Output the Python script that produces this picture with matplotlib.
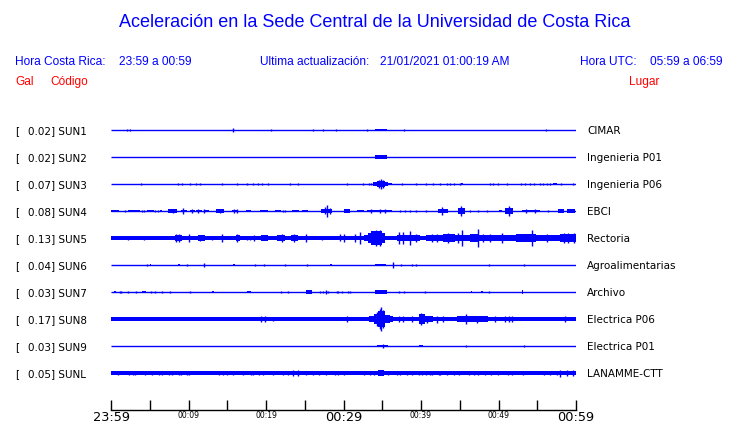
import matplotlib
matplotlib.use("Agg")
import matplotlib.pyplot as plt

# ---------------- data ----------------
codes = ["SUN1", "SUN2", "SUN3", "SUN4", "SUN5", "SUN6", "SUN7", "SUN8", "SUN9", "SUNL"]
places = ["CIMAR", "Ingenieria P01", "Ingenieria P06", "EBCI", "Rectoria",
          "Agroalimentarias", "Archivo", "Electrica P06", "Electrica P01", "LANAMME-CTT"]
peak_gal = [0.02, 0.02, 0.07, 0.08, 0.13, 0.04, 0.03, 0.17, 0.03, 0.05]

tick_minutes = [0, 5, 10, 15, 20, 25, 30, 35, 40, 45, 50, 55, 60]
tick_labels = ["23:59", "", "00:09", "", "00:19", "", "00:29", "", "00:39", "", "00:49", "", "00:59"]
big_tick_labels = ["23:59", "00:29", "00:59"]

# envelope blocks (start min, end min, half amplitude Gal) and spikes (min, Gal)
blocks_SUN1 = [(34.1, 35.6, 0.021)]
spikes_SUN1 = [(2.0, 0.014), (2.45, 0.014), (15.8, 0.03), (20.7, 0.014), (26.1, 0.012),
               (27.4, 0.012), (29.0, 0.008), (33.0, 0.014), (37.8, 0.018), (56.1, 0.016)]

blocks_SUN2 = [(34.1, 35.65, 0.024)]
spikes_SUN2 = []

blocks_SUN3 = [(33.8, 34.3, 0.022), (34.3, 35.3, 0.048), (35.3, 35.8, 0.03), (35.8, 36.2, 0.018),
               (45.2, 45.4, 0.02), (57.0, 57.5, 0.02)]
spikes_SUN3 = [(3.9, 0.014), (8.7, 0.014), (9.1, 0.014), (10.2, 0.012), (11.0, 0.018), (11.5, 0.018),
               (14.3, 0.014), (16.3, 0.014), (17.5, 0.014), (18.3, 0.014), (19.0, 0.012), (19.5, 0.02),
               (20.2, 0.014), (23.1, 0.012), (24.1, 0.012), (30.4, 0.012), (32.5, 0.012), (33.3, 0.02),
               (33.6, 0.02), (34.6, 0.055), (34.9, 0.068), (35.1, 0.06), (37.5, 0.014), (39.4, 0.012),
               (40.6, 0.012), (41.6, 0.012), (42.5, 0.012), (43.3, 0.014), (43.8, 0.014), (44.3, 0.014),
               (45.0, 0.014), (48.9, 0.012), (49.3, 0.014), (49.9, 0.012), (51.1, 0.012), (52.9, 0.014),
               (53.4, 0.012), (54.0, 0.012), (54.6, 0.014), (55.3, 0.014), (55.7, 0.016), (56.2, 0.018),
               (56.6, 0.016), (58.1, 0.018), (59.6, 0.014)]

blocks_SUN4 = [(0.0, 1.0, 0.021), (2.2, 3.7, 0.021), (4.7, 5.5, 0.021), (6.3, 6.6, 0.018),
               (7.3, 8.5, 0.024), (9.0, 9.8, 0.021), (10.2, 10.8, 0.021), (11.0, 11.8, 0.021),
               (12.0, 12.6, 0.021), (13.6, 14.6, 0.024), (15.6, 16.4, 0.021), (17.4, 18.0, 0.018),
               (19.2, 20.2, 0.018), (21.1, 22.0, 0.021), (23.3, 24.2, 0.018), (24.6, 25.4, 0.021),
               (27.1, 28.5, 0.035), (30.0, 30.8, 0.03), (31.7, 32.6, 0.021), (33.0, 36.2, 0.02),
               (42.2, 43.5, 0.035), (44.8, 45.7, 0.04), (50.0, 50.4, 0.02), (50.8, 51.9, 0.04),
               (53.0, 55.4, 0.02), (57.7, 58.5, 0.028), (58.9, 59.9, 0.033)]
spikes_SUN4 = [(1.8, 0.014), (4.0, 0.014), (4.3, 0.014), (5.7, 0.014), (6.0, 0.014), (8.0, 0.035),
               (9.3, 0.04), (10.5, 0.03), (11.2, 0.03), (12.0, 0.025), (14.0, 0.033), (15.9, 0.03),
               (16.2, 0.028), (22.2, 0.014), (22.5, 0.014), (27.6, 0.05), (27.9, 0.08), (28.2, 0.04),
               (33.6, 0.028), (34.7, 0.028), (35.3, 0.028), (37.3, 0.014), (37.9, 0.014), (38.6, 0.014),
               (39.4, 0.014), (40.6, 0.014), (42.7, 0.052), (45.1, 0.066), (46.3, 0.014), (47.4, 0.014),
               (48.5, 0.014), (51.3, 0.066), (53.6, 0.025), (54.7, 0.025), (56.4, 0.014)]

blocks_SUN5 = [(0.0, 28.3, 0.025), (8.2, 9.2, 0.045), (11.2, 12.1, 0.04), (16.1, 16.6, 0.038),
               (19.4, 20.2, 0.038), (21.4, 22.5, 0.04), (23.2, 24.1, 0.04),
               (28.3, 30.8, 0.026), (30.8, 31.5, 0.033), (31.5, 32.6, 0.03), (32.6, 33.2, 0.048),
               (33.2, 33.6, 0.07), (33.6, 35.0, 0.095), (35.0, 35.4, 0.07), (35.4, 36.9, 0.029),
               (36.9, 39.9, 0.038), (39.9, 40.7, 0.026), (40.7, 42.9, 0.038), (42.9, 44.4, 0.057),
               (44.4, 45.5, 0.048), (45.5, 46.3, 0.038), (46.3, 47.4, 0.057), (47.4, 49.8, 0.038),
               (49.8, 52.3, 0.048), (52.3, 54.9, 0.057), (54.9, 57.9, 0.038), (57.9, 60.0, 0.057)]
spikes_SUN5 = [(2.2, 0.033), (4.2, 0.033), (8.4, 0.062), (8.8, 0.055), (10.0, 0.058), (11.5, 0.045),
               (13.0, 0.033), (14.3, 0.062), (16.3, 0.062), (17.5, 0.033), (17.9, 0.033), (18.5, 0.04),
               (22.0, 0.052), (23.6, 0.057), (25.2, 0.057), (27.2, 0.03), (29.5, 0.05), (30.0, 0.06),
               (31.5, 0.057), (32.1, 0.086), (34.2, 0.11), (34.7, 0.12), (37.1, 0.086), (37.7, 0.086),
               (38.6, 0.095), (39.4, 0.057), (41.4, 0.057), (42.0, 0.057), (43.5, 0.071), (44.8, 0.071),
               (45.3, 0.12), (47.3, 0.13), (48.0, 0.057), (48.9, 0.057), (50.4, 0.071), (54.3, 0.11),
               (56.2, 0.057), (58.4, 0.071), (59.0, 0.071), (59.7, 0.071)]

blocks_SUN6 = [(5.0, 5.2, 0.014), (8.7, 8.9, 0.014), (15.8, 16.0, 0.014), (28.2, 28.5, 0.019),
               (34.1, 35.5, 0.02)]
spikes_SUN6 = [(4.6, 0.014), (9.8, 0.014), (12.0, 0.028), (18.6, 0.014), (19.7, 0.019), (22.5, 0.014),
               (25.3, 0.01), (36.4, 0.04), (37.4, 0.014), (38.8, 0.014), (39.4, 0.014), (48.8, 0.014),
               (53.3, 0.019)]

blocks_SUN7 = [(0.4, 0.6, 0.019), (4.0, 4.5, 0.019), (13.0, 13.3, 0.019), (17.6, 18.1, 0.019),
               (25.2, 25.9, 0.024), (34.1, 35.6, 0.024), (46.4, 46.6, 0.014), (47.7, 48.0, 0.019),
               (53.0, 53.2, 0.028)]
spikes_SUN7 = [(1.1, 0.014), (1.3, 0.014), (2.2, 0.01), (3.2, 0.014), (5.1, 0.014), (5.7, 0.014),
               (6.6, 0.01), (7.6, 0.01), (10.2, 0.014), (21.9, 0.01), (22.8, 0.01), (27.0, 0.014),
               (27.3, 0.014), (27.7, 0.028), (28.0, 0.014), (29.1, 0.014), (29.3, 0.014), (29.8, 0.014),
               (30.6, 0.014), (30.9, 0.01), (37.2, 0.014), (37.8, 0.014), (40.5, 0.01), (48.8, 0.014)]

blocks_SUN8 = [(0.0, 60.0, 0.028), (33.3, 33.9, 0.045), (33.9, 34.5, 0.07), (34.5, 35.35, 0.12),
               (35.35, 36.0, 0.06), (36.0, 36.4, 0.04), (39.7, 40.5, 0.065), (40.5, 41.6, 0.04),
               (44.6, 46.7, 0.048), (46.7, 48.7, 0.04)]
spikes_SUN8 = [(19.4, 0.043), (19.9, 0.043), (20.9, 0.035), (30.4, 0.042), (34.3, 0.1), (34.7, 0.14),
               (34.9, 0.17), (35.1, 0.13), (37.1, 0.04), (37.7, 0.04), (38.8, 0.045), (40.0, 0.085),
               (40.8, 0.05), (42.0, 0.05), (42.9, 0.04), (45.8, 0.07), (47.2, 0.05), (49.5, 0.038),
               (50.9, 0.04), (51.3, 0.04), (51.8, 0.04), (58.6, 0.038)]

blocks_SUN9 = [(34.3, 35.7, 0.02), (39.8, 40.3, 0.02)]
spikes_SUN9 = [(35.1, 0.028), (45.8, 0.012), (53.3, 0.01)]

blocks_SUNL = [(0.0, 60.0, 0.025), (0.0, 0.6, 0.032), (10.9, 11.9, 0.032), (34.5, 35.2, 0.036),
               (54.0, 55.2, 0.035), (58.9, 60.0, 0.033)]
spikes_SUNL = [(0.96, 0.034), (2.26, 0.034), (2.9, 0.034), (3.1, 0.034), (4.4, 0.034), (5.29, 0.034),
               (6.15, 0.034), (6.58, 0.034), (7.46, 0.034), (7.89, 0.034), (8.75, 0.034), (8.97, 0.034),
               (9.83, 0.034), (10.05, 0.034), (13.95, 0.034), (14.4, 0.034), (15.0, 0.034), (15.7, 0.034),
               (17.0, 0.034), (18.1, 0.034), (18.3, 0.034), (19.1, 0.034), (19.6, 0.034), (20.9, 0.034),
               (22.2, 0.034), (22.8, 0.034), (23.5, 0.036), (24.1, 0.036), (25.2, 0.034), (26.1, 0.034),
               (26.9, 0.034), (27.8, 0.034), (28.9, 0.034), (29.3, 0.034), (30.0, 0.034), (32.6, 0.034),
               (33.4, 0.034), (33.9, 0.034), (35.8, 0.034), (36.9, 0.034), (37.3, 0.034), (38.2, 0.034),
               (38.8, 0.034), (39.7, 0.034), (40.1, 0.034), (40.6, 0.034), (41.2, 0.034), (41.4, 0.034),
               (42.3, 0.034), (42.5, 0.034), (43.4, 0.034), (44.3, 0.034), (44.9, 0.034), (46.2, 0.034),
               (46.9, 0.034), (47.3, 0.034), (48.2, 0.034), (49.0, 0.034), (49.9, 0.034), (51.2, 0.034),
               (51.8, 0.034), (53.1, 0.034), (55.9, 0.034), (56.6, 0.034), (57.5, 0.034), (57.9, 0.05),
               (58.8, 0.036), (59.6, 0.036)]

blocks = {"SUN1": blocks_SUN1, "SUN2": blocks_SUN2, "SUN3": blocks_SUN3, "SUN4": blocks_SUN4,
          "SUN5": blocks_SUN5, "SUN6": blocks_SUN6, "SUN7": blocks_SUN7, "SUN8": blocks_SUN8,
          "SUN9": blocks_SUN9, "SUNL": blocks_SUNL}
spikes = {"SUN1": spikes_SUN1, "SUN2": spikes_SUN2, "SUN3": spikes_SUN3, "SUN4": spikes_SUN4,
          "SUN5": spikes_SUN5, "SUN6": spikes_SUN6, "SUN7": spikes_SUN7, "SUN8": spikes_SUN8,
          "SUN9": spikes_SUN9, "SUNL": spikes_SUNL}

# ---------------- drawing ----------------
W, H = 740, 423
BLUE = "#0000ff"
RED = "#ff0000"
HDR_FONT = ["Liberation Sans", "DejaVu Sans"]
LBL_FONT = ["DejaVu Sans"]

fig = plt.figure(figsize=(W / 100, H / 100), dpi=100)
fig.patch.set_facecolor("white")


def fx(x):
    return x / W


def fy(y):
    return 1 - y / H


SPACING_PX = 27.0
GAIN_PX_PER_GAL = 70.0
G = GAIN_PX_PER_GAL / SPACING_PX

ax = fig.add_axes([fx(111), fy(410), 465 / W, 307 / H])
ax.set_xlim(0, 60)
ax.set_ylim(9 + 37 / SPACING_PX, -1)
ax.set_facecolor("none")
for s in ("left", "right", "top"):
    ax.spines[s].set_visible(False)
ax.spines["bottom"].set_linewidth(1.0)
ax.set_yticks([])

for i, code in enumerate(codes):
    ax.hlines(i, 0, 60, color=BLUE, lw=1.0)
    for t0, t1, a in blocks[code]:
        ax.bar(t0, 2 * a * G, width=t1 - t0, bottom=i - a * G, align="edge",
               color=BLUE, linewidth=0)
    if spikes[code]:
        ts = [s[0] for s in spikes[code]]
        amps = [s[1] for s in spikes[code]]
        ax.vlines(ts, [i - a * G for a in amps], [i + a * G for a in amps], color=BLUE, lw=1.0)

    ybase = 130 + SPACING_PX * i + 3.8
    fig.text(fx(15), fy(ybase), "[", fontsize=7.5, family=LBL_FONT, va="baseline")
    fig.text(fx(27.5), fy(ybase), f"{peak_gal[i]:.2f}] {code}", fontsize=7.5,
             family=LBL_FONT, va="baseline")
    fig.text(fx(587), fy(ybase), places[i], fontsize=7.5, family=LBL_FONT, va="baseline")

ax.set_xticks(tick_minutes)
ax.set_xticklabels(tick_labels)
ax.tick_params(axis="x", direction="in", length=7.2, width=1.0, pad=1, colors="black")
for lab in ax.get_xticklabels():
    if lab.get_text() in big_tick_labels:
        lab.set_fontsize(9.3)
    else:
        lab.set_fontsize(5.5)
    lab.set_family(LBL_FONT)

# headers
HS = 8.6
fig.text(fx(375), fy(27), "Aceleración en la Sede Central de la Universidad de Costa Rica",
         fontsize=13, color=BLUE, family=HDR_FONT, ha="center", va="baseline")
fig.text(fx(15), fy(65), "Hora Costa Rica:", fontsize=HS, color=BLUE, family=HDR_FONT, va="baseline")
fig.text(fx(119), fy(65), "23:59 a 00:59", fontsize=HS, color=BLUE, family=HDR_FONT, va="baseline")
fig.text(fx(260), fy(65), "Ultima actualización:", fontsize=HS, color=BLUE, family=HDR_FONT,
         va="baseline")
fig.text(fx(380), fy(65), "21/01/2021 01:00:19 AM", fontsize=HS, color=BLUE, family=HDR_FONT,
         va="baseline")
fig.text(fx(580), fy(65), "Hora UTC:", fontsize=HS, color=BLUE, family=HDR_FONT, va="baseline")
fig.text(fx(650), fy(65), "05:59 a 06:59", fontsize=HS, color=BLUE, family=HDR_FONT, va="baseline")
fig.text(fx(15), fy(85), "Gal", fontsize=HS, color=RED, family=HDR_FONT, va="baseline")
fig.text(fx(50), fy(85), "Código", fontsize=HS, color=RED, family=HDR_FONT, va="baseline")
fig.text(fx(629), fy(85), "Lugar", fontsize=HS, color=RED, family=HDR_FONT, va="baseline")

fig.savefig("out.png", dpi=100, facecolor="white")
